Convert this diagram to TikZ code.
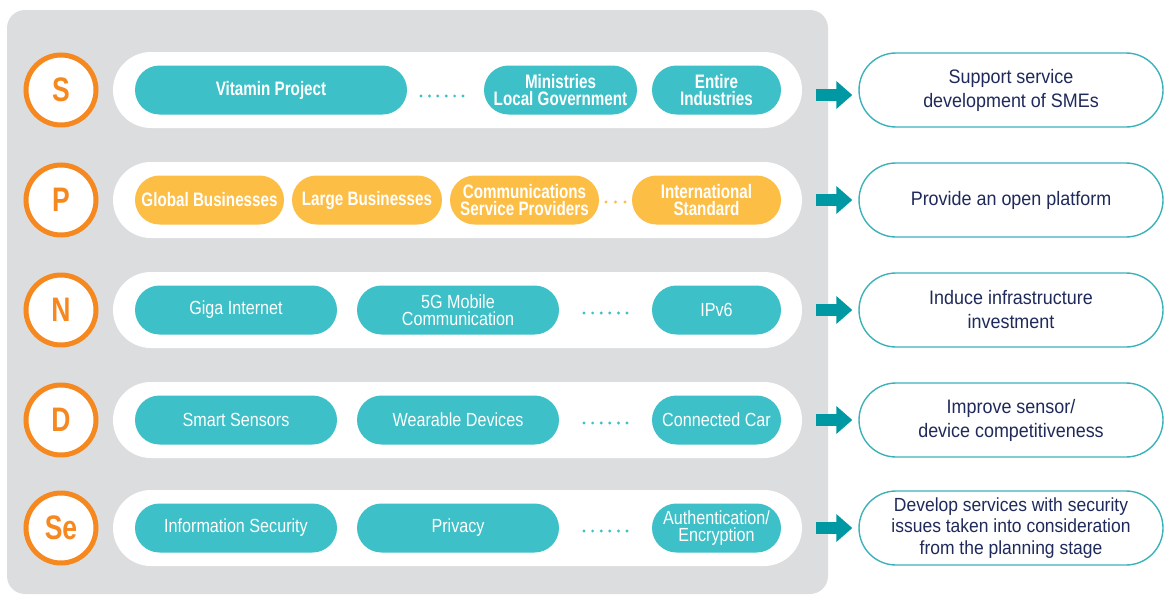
\documentclass[tikz,border=0pt]{standalone}
\usepackage{fontspec}
\setmainfont{Liberation Sans}
\newfontfamily\condR[FakeStretch=0.85]{Liberation Sans}
\newfontfamily\condB[FakeStretch=0.78]{Liberation Sans Bold}
\newfontfamily\rboxf[FakeStretch=0.92]{Liberation Sans}
\usetikzlibrary{arrows.meta}
\definecolor{panelgrey}{HTML}{DCDDDF}
\definecolor{pillteal}{HTML}{3DC0C7}
\definecolor{pillyellow}{HTML}{FDBE46}
\definecolor{circorange}{HTML}{F5881F}
\definecolor{arrteal}{HTML}{0098A2}
\definecolor{boxteal}{HTML}{3BB2BA}
\definecolor{navy}{HTML}{1F2A5A}
\tikzset{
  rowcap/.style={fill=white, rounded corners=38pt, minimum width=689pt, minimum height=76pt, inner sep=0pt},
  letcirc/.style={circle, draw=circorange, line width=5pt, fill=white, minimum size=70pt, inner sep=0pt,
    text=circorange, font=\condB\fontsize{34}{34}\selectfont},
  pill/.style={rounded corners=24.5pt, minimum height=49pt, inner sep=0pt, text=white, align=center},
  tpill/.style={pill, fill=pillteal, font=\condR\fontsize{19}{17}\selectfont},
  tpillb/.style={pill, fill=pillteal, font=\condB\fontsize{19.5}{17.5}\selectfont},
  ypill/.style={pill, fill=pillyellow, font=\condB\fontsize{19.5}{17.5}\selectfont},
  outbox/.style={draw=boxteal, line width=1.4pt, fill=white, rounded corners=37pt, minimum width=304pt,
    minimum height=74pt, inner sep=0pt, align=center, text=navy, font=\rboxf\fontsize{19.5}{24}\selectfont},
  bigarrow/.style={draw=arrteal, line width=12pt, -{Triangle[length=16pt,width=27pt]}},
}
\begin{document}
\begin{tikzpicture}[x=1pt,y=-1pt]
\useasboundingbox (0,0) rectangle (1164,597);
\fill[panelgrey, rounded corners=18pt] (7,10) rectangle (828,594);

% rows
\foreach \nm/\yy in {S/90,P/200,N/310,D/420,Se/528}{
  \node[rowcap] (row\nm) at (457.5,\yy) {};
}
\node[letcirc] (cS) at (61,90) {S};
\node[letcirc] (cP) at (61,200) {P};
\node[letcirc] (cN) at (61,310) {N};
\node[letcirc] (cD) at (61,420) {D};
\node[letcirc] (cSe) at (61,528) {Se};

% S row
\node[tpillb, minimum width=272pt] (s1) at (271,90) {Vitamin Project};
\node[tpillb, minimum width=153pt] (s2) at (560.5,90) {Ministries\\Local Government};
\node[tpillb, minimum width=129pt] (s3) at (716.5,90) {Entire\\Industries};
\foreach \i in {0,...,5} \fill[pillteal] (421+8.4*\i,96) circle (1.6);

% P row
\node[ypill, minimum width=149pt] (p1) at (209.5,200) {Global Businesses};
\node[ypill, minimum width=150pt] (p2) at (367,200) {Large Businesses};
\node[ypill, minimum width=149pt] (p3) at (524.5,200) {Communications\\Service Providers};
\node[ypill, minimum width=149pt] (p4) at (706.5,200) {International\\Standard};
\foreach \i in {0,...,2} \fill[pillyellow] (606+9.5*\i,202) circle (1.6);

% N row
\node[tpill, minimum width=202pt] (n1) at (236,310) {Giga Internet};
\node[tpill, minimum width=202pt] (n2) at (458,310) {5G Mobile\\Communication};
\node[tpill, minimum width=129pt] (n3) at (716.5,310) {IPv6};
\foreach \i in {0,...,5} \fill[pillteal] (584+8.6*\i,313) circle (1.6);

% D row
\node[tpill, minimum width=202pt] (d1) at (236,420) {Smart Sensors};
\node[tpill, minimum width=202pt] (d2) at (458,420) {Wearable Devices};
\node[tpill, minimum width=129pt] (d3) at (716.5,420) {Connected Car};
\foreach \i in {0,...,5} \fill[pillteal] (584+8.6*\i,423) circle (1.6);

% Se row
\node[tpill, minimum width=202pt] (e1) at (236,528) {Information Security};
\node[tpill, minimum width=202pt] (e2) at (458,528) {Privacy};
\node[tpill, minimum width=129pt] (e3) at (716.5,528) {Authentication/\\Encryption};
\foreach \i in {0,...,5} \fill[pillteal] (584+8.6*\i,531) circle (1.6);

% outcome boxes
\node[outbox] (oS) at (1011,90) {Support service\\development of SMEs};
\node[outbox] (oP) at (1011,200) {Provide an open platform};
\node[outbox] (oN) at (1011,310) {Induce infrastructure\\investment};
\node[outbox] (oD) at (1011,420) {Improve sensor/\\device competitiveness};
\node[outbox, font=\rboxf\fontsize{19}{21.5}\selectfont] (oSe) at (1011,528) {Develop services with security\\issues taken into consideration\\from the planning stage};

% arrows
\draw[bigarrow] ([shift={(14,5)}]rowS.east) -- ([shift={(-6,5)}]oS.west);
\draw[bigarrow] ([xshift=14pt]rowP.east) -- ([xshift=-6pt]oP.west);
\draw[bigarrow] ([xshift=14pt]rowN.east) -- ([xshift=-6pt]oN.west);
\draw[bigarrow] ([xshift=14pt]rowD.east) -- ([xshift=-6pt]oD.west);
\draw[bigarrow] ([xshift=14pt]rowSe.east) -- ([xshift=-6pt]oSe.west);
\end{tikzpicture}
\end{document}
